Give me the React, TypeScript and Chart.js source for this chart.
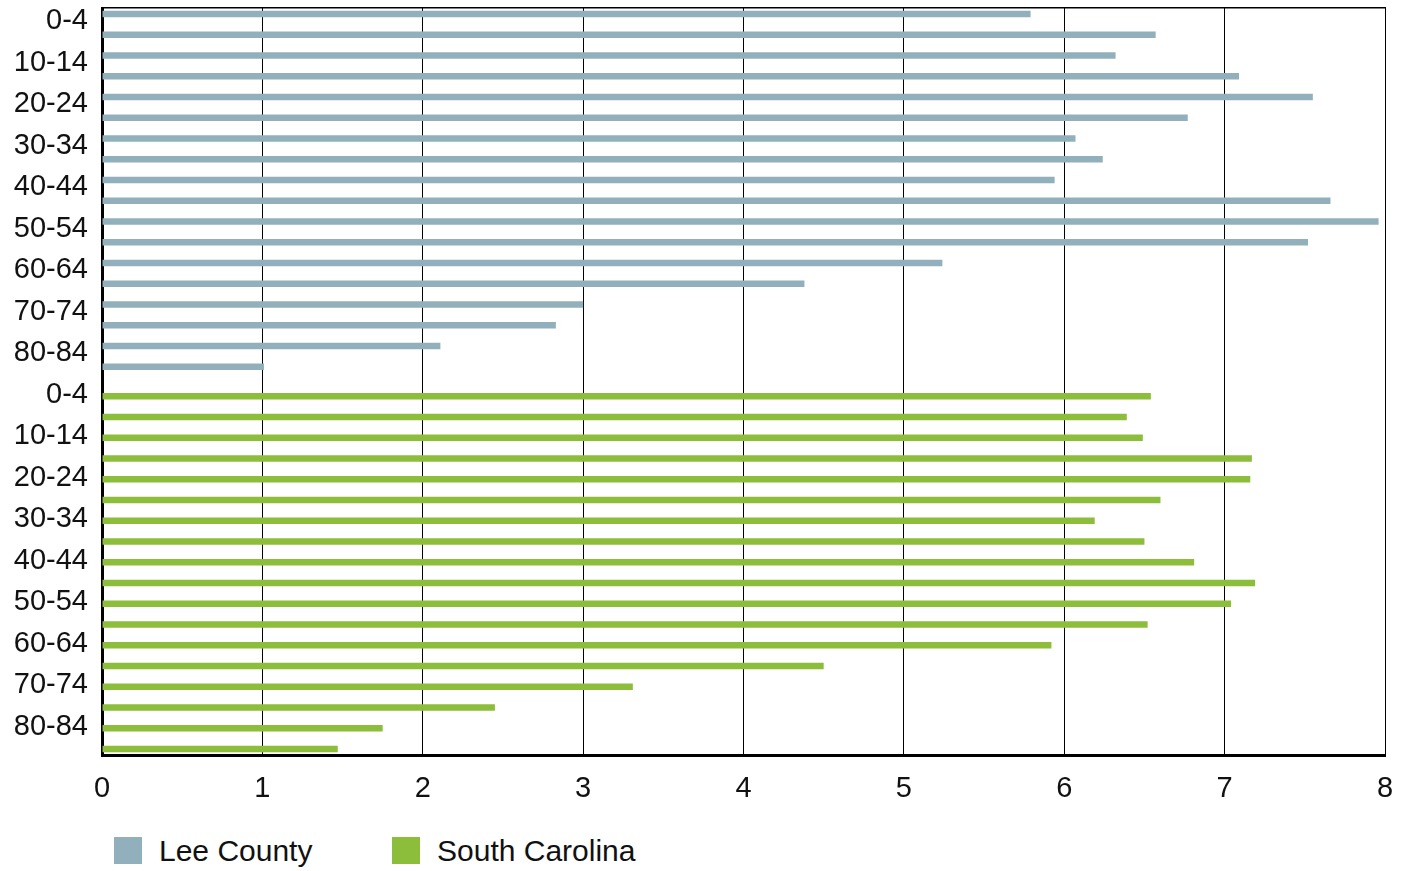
import React, { useEffect, useRef } from 'react';
import { Chart, registerables, ChartConfiguration } from 'chart.js';

Chart.register(...registerables);

const ageGroups = ['0-4', '5-9', '10-14', '15-19', '20-24', '25-29', '30-34', '35-39', '40-44',
    '45-49', '50-54', '55-59', '60-64', '65-69', '70-74', '75-79', '80-84', '85+'];
const categories = [...ageGroups, ...ageGroups];

const leeCounty = [5.79, 6.57, 6.32, 7.09, 7.55, 6.77, 6.07, 6.24, 5.94, 7.66, 7.96, 7.52, 5.24, 4.38, 3.0, 2.83, 2.11, 1.01];
const southCarolina = [6.54, 6.39, 6.49, 7.17, 7.16, 6.6, 6.19, 6.5, 6.81, 7.19, 7.04, 6.52, 5.92, 4.5, 3.31, 2.45, 1.75, 1.47];

const xTicks = [0, 1, 2, 3, 4, 5, 6, 7, 8];

const seriesNames = ['Lee County', 'South Carolina'];
const seriesColors = ['#91b0bb', '#8cbe3c'];

const FONT = "'Liberation Sans', Arial, Helvetica, sans-serif";
const blanks = ageGroups.map(() => null);

const App: React.FC = () => {
    const canvasRef = useRef<HTMLCanvasElement>(null);
    const chartRef = useRef<Chart | null>(null);

    useEffect(() => {
        if (!canvasRef.current) return;
        const ctx = canvasRef.current.getContext('2d');
        if (!ctx) return;

        const config: ChartConfiguration<'bar'> = {
            type: 'bar',
            data: {
                labels: categories,
                datasets: [
                    {
                        label: seriesNames[0],
                        data: [...leeCounty, ...blanks],
                        backgroundColor: seriesColors[0],
                        categoryPercentage: 0.85,
                        barPercentage: 0.72,
                    },
                    {
                        label: seriesNames[1],
                        data: [...blanks, ...southCarolina],
                        backgroundColor: seriesColors[1],
                        categoryPercentage: 0.85,
                        barPercentage: 0.72,
                    },
                ],
            },
            options: {
                indexAxis: 'y',
                responsive: true,
                maintainAspectRatio: false,
                animation: false,
                layout: { padding: { top: 8, right: 21, left: 0, bottom: 0 } },
                plugins: {
                    legend: { display: false },
                    tooltip: { enabled: false },
                },
                scales: {
                    x: {
                        type: 'linear',
                        position: 'bottom',
                        min: xTicks[0],
                        max: xTicks[xTicks.length - 1],
                        afterBuildTicks: (scale) => {
                            scale.ticks = xTicks.map((v) => ({ value: v }));
                        },
                        afterFit: (scale: any) => {
                            scale.height = 55;
                            scale.paddingLeft = 0;
                            scale.paddingRight = 0;
                        },
                        grid: { color: '#000', lineWidth: 1, drawTicks: false },
                        border: { color: '#000', width: 3 },
                        ticks: {
                            padding: 17,
                            color: '#111',
                            font: { family: FONT, size: 29 },
                        },
                    },
                    xTop: {
                        type: 'linear',
                        position: 'top',
                        min: xTicks[0],
                        max: xTicks[xTicks.length - 1],
                        afterFit: (scale: any) => {
                            scale.height = 0;
                            scale.paddingLeft = 0;
                            scale.paddingRight = 0;
                        },
                        grid: { display: false, drawTicks: false },
                        border: { color: '#000', width: 1.5 },
                        ticks: { display: false },
                    },
                    y: {
                        type: 'category',
                        afterFit: (scale: any) => {
                            scale.width = 102;
                            scale.paddingTop = 0;
                            scale.paddingBottom = 0;
                        },
                        grid: { display: false, drawTicks: false },
                        border: { color: '#000', width: 3 },
                        ticks: {
                            autoSkip: false,
                            padding: 14,
                            labelOffset: 3,
                            color: '#111',
                            font: { family: FONT, size: 29 },
                            callback: (_v, i) => (i % 2 === 0 ? categories[i] : ''),
                        },
                    },
                },
            },
        };

        if (chartRef.current) {
            chartRef.current.destroy();
        }
        chartRef.current = new Chart(ctx, config);

        return () => {
            chartRef.current?.destroy();
            chartRef.current = null;
        };
    }, []);

    return (
        <div style={{ position: 'absolute', left: 0, top: 0, width: 1406, height: 871, background: '#fff', fontFamily: FONT }}>
            <div style={{ position: 'absolute', left: 0, top: 0, width: 1406, height: 810 }}>
                <canvas ref={canvasRef}></canvas>
            </div>
            <div style={{ position: 'absolute', left: 114, top: 837, display: 'flex', alignItems: 'center' }}>
                {seriesNames.map((name, i) => (
                    <div key={name} style={{ display: 'flex', alignItems: 'center', width: i === 0 ? 278 : 'auto' }}>
                        <span style={{ display: 'inline-block', width: 28, height: 27, background: seriesColors[i] }}></span>
                        <span style={{ marginLeft: 17, fontSize: 30, color: '#111', lineHeight: '27px', whiteSpace: 'nowrap' }}>{name}</span>
                    </div>
                ))}
            </div>
        </div>
    );
};

export default App;
